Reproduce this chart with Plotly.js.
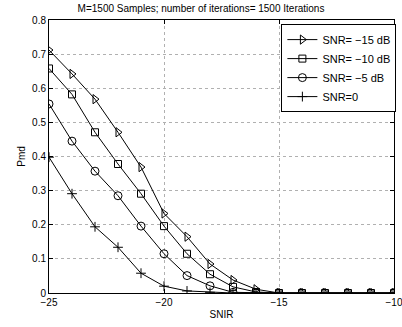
<!DOCTYPE html>
<html><head><meta charset="utf-8">
<script src="https://cdn.plot.ly/plotly-3.0.1.min.js"></script>
<style>html,body{margin:0;padding:0;background:#fff}#c{width:402px;height:327px}</style>
</head><body><div id="c"></div>
<script>
const snir = [-25,-24,-23,-22,-21,-20,-19,-18,-17,-16,-15,-14,-13,-12,-11,-10];
const pmdSnrM15 = [0.712,0.642,0.568,0.471,0.369,0.233,0.165,0.085,0.038,0.011,0,0,0,0,0,0];
const pmdSnrM10 = [0.658,0.582,0.471,0.378,0.291,0.196,0.115,0.055,0.018,0.003,0,0,0,0,0,0];
const pmdSnrM5  = [0.554,0.445,0.357,0.285,0.196,0.115,0.051,0.021,0.002,0,0,0,0,0,0,0];
const pmdSnr0   = [0.398,0.291,0.194,0.134,0.058,0.020,0.006,0.002,0,0,0,0,0,0,0,0];
const names = ["SNR= \u221215 dB","SNR= \u221210 dB","SNR= \u22125 dB","SNR=0"];
const series = [pmdSnrM15,pmdSnrM10,pmdSnrM5,pmdSnr0];
const symbols = ["triangle-right-open","square-open","circle-open","cross-thin-open"];
const sizes = [8,7,8,7];
const traces = series.map((y,i)=>({
  x: snir, y: y, name: names[i], type:'scatter', mode:'lines+markers',
  line:{color:'#000',width:1},
  marker:{symbol:symbols[i],size:sizes[i],color:'#000',line:{color:'#000',width:1}}
}));
const font = {family:'Liberation Sans, Arial, sans-serif', size:10, color:'#000'};
const layout = {
  width:402, height:327,
  margin:{l:49,r:7,t:20,b:34},
  paper_bgcolor:'#fff', plot_bgcolor:'#fff',
  font: font,
  showlegend:true,
  title:{text:'M=1500 Samples; number of iterations= 1500 Iterations', font:{family:font.family,size:10,color:'#000'}, x:0.5, xanchor:'center', y:0.985, yanchor:'top'},
  xaxis:{range:[-25,-10], tickvals:[-25,-20,-15,-10], showline:true, mirror:'allticks', linecolor:'#000', linewidth:1,
    ticks:'inside', ticklen:4, tickcolor:'#000', showgrid:true, gridcolor:'#b0b0b0', griddash:'dot', gridwidth:1, zeroline:false,
    ticklabeloverflow:'allow',
    title:{text:'SNIR', font:{family:font.family,size:10,color:'#000'}, standoff:3}, tickfont:{size:10}},
  yaxis:{range:[0,0.8], dtick:0.1, tick0:0, showline:true, mirror:'allticks', linecolor:'#000', linewidth:1,
    ticks:'inside', ticklen:4, tickcolor:'#000', showgrid:true, gridcolor:'#b0b0b0', griddash:'dot', gridwidth:1, zeroline:false,
    title:{text:'Pmd', font:{family:font.family,size:10,color:'#000'}, standoff:4}, tickfont:{size:10}},
  legend:{x:1.004, y:0.985, xanchor:'right', yanchor:'top', bgcolor:'#fff', bordercolor:'#000', borderwidth:1,
    font:{family:font.family,size:11,color:'#000'}, tracegroupgap:0, itemwidth:30}
};
Plotly.newPlot('c', traces, layout, {staticPlot:true, displayModeBar:false});
</script></body></html>
